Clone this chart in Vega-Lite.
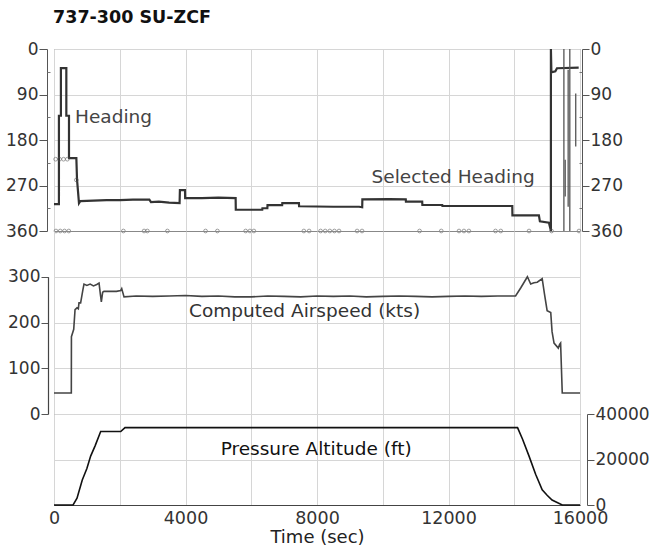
{
  "$schema": "https://vega.github.io/schema/vega-lite/v6.json",
  "background": "white",
  "padding": {"top": 9, "left": 5, "right": 5, "bottom": 5},
  "title": {"text": "737-300 SU-ZCF", "anchor": "start", "font": "DejaVu Sans", "fontSize": 17.5, "fontWeight": "bold", "color": "#111", "offset": 13, "dx": 48},
  "config": {
    "font": "DejaVu Sans",
    "view": {"stroke": "#888", "strokeWidth": 1},
    "axis": {"labelFont": "DejaVu Sans", "titleFont": "DejaVu Sans", "labelFontSize": 17, "labelColor": "#333", "domainColor": "#555", "tickColor": "#555", "gridColor": "#d6d6d6"}
  },
  "datasets": {
    "hdg": [
      {"i": 1, "t": 0, "deg": 307}, {"i": 2, "t": 150, "deg": 307}, {"i": 3, "t": 150, "deg": 132}, {"i": 4, "t": 210, "deg": 132},
      {"i": 5, "t": 210, "deg": 38}, {"i": 6, "t": 375, "deg": 38}, {"i": 7, "t": 375, "deg": 132}, {"i": 8, "t": 456, "deg": 132},
      {"i": 9, "t": 456, "deg": 216}, {"i": 10, "t": 680, "deg": 216}, {"i": 11, "t": 700, "deg": 258}, {"i": 12, "t": 760, "deg": 305},
      {"i": 13, "t": 800, "deg": 301}, {"i": 14, "t": 1200, "deg": 300}, {"i": 15, "t": 1600, "deg": 299}, {"i": 16, "t": 2000, "deg": 299},
      {"i": 17, "t": 2400, "deg": 298}, {"i": 18, "t": 2900, "deg": 298}, {"i": 19, "t": 2950, "deg": 303}, {"i": 20, "t": 3190, "deg": 302},
      {"i": 21, "t": 3500, "deg": 304}, {"i": 22, "t": 3820, "deg": 305}, {"i": 23, "t": 3830, "deg": 279}, {"i": 24, "t": 3985, "deg": 279},
      {"i": 25, "t": 3990, "deg": 295}, {"i": 26, "t": 4500, "deg": 295}, {"i": 27, "t": 5000, "deg": 294}, {"i": 28, "t": 5525, "deg": 295},
      {"i": 29, "t": 5530, "deg": 318}, {"i": 30, "t": 6335, "deg": 318}, {"i": 31, "t": 6340, "deg": 315}, {"i": 32, "t": 6490, "deg": 315},
      {"i": 33, "t": 6495, "deg": 309}, {"i": 34, "t": 6940, "deg": 309}, {"i": 35, "t": 6945, "deg": 305}, {"i": 36, "t": 7450, "deg": 305},
      {"i": 37, "t": 7455, "deg": 311}, {"i": 38, "t": 8500, "deg": 312}, {"i": 39, "t": 9280, "deg": 312}, {"i": 40, "t": 9375, "deg": 313},
      {"i": 41, "t": 9380, "deg": 297.5}, {"i": 42, "t": 10200, "deg": 297}, {"i": 43, "t": 10700, "deg": 297.5}, {"i": 44, "t": 10705, "deg": 302},
      {"i": 45, "t": 11200, "deg": 302}, {"i": 46, "t": 11205, "deg": 308.6}, {"i": 47, "t": 11810, "deg": 308.6}, {"i": 48, "t": 11815, "deg": 310.5},
      {"i": 49, "t": 13940, "deg": 310.5}, {"i": 50, "t": 13945, "deg": 329}, {"i": 51, "t": 14750, "deg": 329}, {"i": 52, "t": 14780, "deg": 341},
      {"i": 53, "t": 15055, "deg": 343.6}, {"i": 54, "t": 15110, "deg": 358}, {"i": 55, "t": 15115, "deg": 360}, {"i": 56, "t": 15115, "deg": 0},
      {"i": 57, "t": 15130, "deg": 46}, {"i": 58, "t": 15250, "deg": 44}, {"i": 59, "t": 15300, "deg": 38}, {"i": 60, "t": 15960, "deg": 37}
    ],
    "wrap": [
      {"t": 15510, "lo": 0, "hi": 360}, {"t": 15550, "lo": 219, "hi": 292}, {"t": 15640, "lo": 41, "hi": 312},
      {"t": 15690, "lo": 0, "hi": 360}, {"t": 15870, "lo": 88, "hi": 193}
    ],
    "sel": [
      {"t": 60, "deg": 360}, {"t": 190, "deg": 360}, {"t": 320, "deg": 360}, {"t": 450, "deg": 360},
      {"t": 2110, "deg": 360}, {"t": 2740, "deg": 360}, {"t": 2840, "deg": 360}, {"t": 3450, "deg": 360},
      {"t": 4610, "deg": 360}, {"t": 4970, "deg": 360}, {"t": 5830, "deg": 360}, {"t": 5960, "deg": 360},
      {"t": 6080, "deg": 360}, {"t": 7600, "deg": 360}, {"t": 7760, "deg": 360}, {"t": 8110, "deg": 360},
      {"t": 8250, "deg": 360}, {"t": 8390, "deg": 360}, {"t": 8530, "deg": 360}, {"t": 8670, "deg": 360},
      {"t": 9220, "deg": 360}, {"t": 9370, "deg": 360}, {"t": 11120, "deg": 360}, {"t": 11780, "deg": 360},
      {"t": 12320, "deg": 360}, {"t": 12470, "deg": 360}, {"t": 12620, "deg": 360}, {"t": 13430, "deg": 360},
      {"t": 13590, "deg": 360}, {"t": 14450, "deg": 360}, {"t": 15135, "deg": 360}, {"t": 15970, "deg": 360},
      {"t": 50, "deg": 218}, {"t": 170, "deg": 218}, {"t": 290, "deg": 218}, {"t": 405, "deg": 218}, {"t": 680, "deg": 259}
    ],
    "ias": [
      {"t": 0, "kts": 46}, {"t": 527, "kts": 46}, {"t": 530, "kts": 169}, {"t": 600, "kts": 185}, {"t": 640, "kts": 228},
      {"t": 700, "kts": 232}, {"t": 740, "kts": 230}, {"t": 760, "kts": 243}, {"t": 810, "kts": 243}, {"t": 880, "kts": 272},
      {"t": 912, "kts": 284}, {"t": 1000, "kts": 281}, {"t": 1100, "kts": 284}, {"t": 1200, "kts": 280}, {"t": 1300, "kts": 283},
      {"t": 1370, "kts": 286}, {"t": 1410, "kts": 262}, {"t": 1440, "kts": 245}, {"t": 1480, "kts": 266}, {"t": 1520, "kts": 268},
      {"t": 1700, "kts": 268}, {"t": 1900, "kts": 268}, {"t": 2030, "kts": 270}, {"t": 2060, "kts": 274}, {"t": 2130, "kts": 256},
      {"t": 2500, "kts": 258}, {"t": 3000, "kts": 257}, {"t": 3500, "kts": 258}, {"t": 4000, "kts": 259}, {"t": 4500, "kts": 257},
      {"t": 5000, "kts": 258}, {"t": 5500, "kts": 256}, {"t": 6000, "kts": 256}, {"t": 6500, "kts": 258}, {"t": 7000, "kts": 257},
      {"t": 7500, "kts": 256}, {"t": 8000, "kts": 258}, {"t": 8500, "kts": 257}, {"t": 9000, "kts": 258}, {"t": 9500, "kts": 256},
      {"t": 10000, "kts": 257}, {"t": 10500, "kts": 258}, {"t": 11000, "kts": 257}, {"t": 11500, "kts": 256}, {"t": 12000, "kts": 257},
      {"t": 12500, "kts": 258}, {"t": 13000, "kts": 257}, {"t": 13500, "kts": 258}, {"t": 14040, "kts": 258}, {"t": 14200, "kts": 276},
      {"t": 14400, "kts": 300}, {"t": 14500, "kts": 284}, {"t": 14600, "kts": 287}, {"t": 14700, "kts": 288}, {"t": 14850, "kts": 296},
      {"t": 14920, "kts": 262}, {"t": 15000, "kts": 226}, {"t": 15110, "kts": 222}, {"t": 15150, "kts": 180}, {"t": 15210, "kts": 155},
      {"t": 15340, "kts": 144}, {"t": 15380, "kts": 152}, {"t": 15410, "kts": 155}, {"t": 15460, "kts": 46}, {"t": 16000, "kts": 46}
    ],
    "alt": [
      {"t": 0, "ft": 0}, {"t": 580, "ft": 0}, {"t": 700, "ft": 3000}, {"t": 860, "ft": 11000}, {"t": 1000, "ft": 16000},
      {"t": 1115, "ft": 21500}, {"t": 1250, "ft": 26000}, {"t": 1420, "ft": 32300}, {"t": 1700, "ft": 32300}, {"t": 2030, "ft": 32300},
      {"t": 2160, "ft": 34000}, {"t": 14100, "ft": 34000}, {"t": 14250, "ft": 29000}, {"t": 14450, "ft": 21500}, {"t": 14650, "ft": 13500},
      {"t": 14850, "ft": 6700}, {"t": 15000, "ft": 4300}, {"t": 15150, "ft": 2200}, {"t": 15460, "ft": 0}, {"t": 16000, "ft": 0}
    ],
    "labels": [
      {"panel": "hdg", "t": 640, "v": 134.5, "text": "Heading"},
      {"panel": "hdg", "t": 9660, "v": 252.6, "text": "Selected Heading"},
      {"panel": "ias", "t": 4106, "v": 226, "text": "Computed Airspeed (kts)"},
      {"panel": "alt", "t": 5070, "v": 24760, "text": "Pressure Altitude (ft)"}
    ]
  },
  "spacing": 0,
  "bounds": "flush",
  "vconcat": [
    {
      "width": 526,
      "height": 182,
      "encoding": {
        "x": {"field": "t", "type": "quantitative", "scale": {"domain": [0, 16000], "nice": false, "zero": false},
              "axis": {"values": [0, 2000, 4000, 6000, 8000, 10000, 12000, 14000, 16000], "grid": true, "labels": false, "ticks": false, "domain": false, "title": null}}
      },
      "layer": [
        {
          "data": {"name": "hdg"},
          "mark": {"type": "line", "color": "#333", "strokeWidth": 2.2},
          "encoding": {
            "y": {"field": "deg", "type": "quantitative", "scale": {"domain": [0, 360], "reverse": true, "nice": false, "zero": false},
                  "axis": {"orient": "left", "values": [0, 90, 180, 270, 360], "offset": 7, "tickSize": 8, "labelPadding": 1, "grid": true, "title": null}},
            "order": {"field": "i", "type": "quantitative"}
          }
        },
        {
          "data": {"name": "wrap"},
          "mark": {"type": "rule", "color": "#555", "strokeWidth": 1.3},
          "encoding": {
            "y": {"field": "lo", "type": "quantitative", "scale": {"domain": [0, 360], "reverse": true, "nice": false, "zero": false},
                  "axis": {"orient": "left", "values": [45, 135, 225, 315], "offset": 7, "tickSize": -3, "labels": false, "domain": false, "grid": false, "title": null, "tickColor": "#777"}},
            "y2": {"field": "hi"}
          }
        },
        {
          "data": {"name": "sel"},
          "mark": {"type": "point", "shape": "circle", "filled": false, "size": 14, "color": "#555", "strokeWidth": 0.8},
          "encoding": {
            "y": {"field": "deg", "type": "quantitative", "scale": {"domain": [0, 360], "reverse": true, "nice": false, "zero": false},
                  "axis": {"orient": "right", "values": [0, 90, 180, 270, 360], "offset": 2, "tickSize": 7, "labelPadding": 1, "grid": false, "title": null}}
          }
        },
        {
          "data": {"name": "labels"},
          "transform": [{"filter": "datum.panel == 'hdg'"}],
          "mark": {"type": "text", "align": "left", "baseline": "middle", "fontSize": 18.5, "color": "#444"},
          "encoding": {
            "y": {"field": "v", "type": "quantitative", "scale": {"domain": [0, 360], "reverse": true, "nice": false, "zero": false},
                  "axis": {"orient": "right", "values": [45, 135, 225, 315], "offset": 2, "tickSize": -3, "labels": false, "domain": false, "grid": false, "title": null, "tickColor": "#777"}},
            "text": {"field": "text"}
          }
        }
      ],
      "resolve": {"axis": {"y": "independent"}}
    },
    {
      "width": 526,
      "height": 183,
      "encoding": {
        "x": {"field": "t", "type": "quantitative", "scale": {"domain": [0, 16000], "nice": false, "zero": false},
              "axis": {"values": [0, 2000, 4000, 6000, 8000, 10000, 12000, 14000, 16000], "grid": true, "labels": false, "ticks": false, "domain": false, "title": null}}
      },
      "layer": [
        {
          "data": {"name": "ias"},
          "mark": {"type": "line", "color": "#444", "strokeWidth": 1.6},
          "encoding": {
            "y": {"field": "kts", "type": "quantitative", "scale": {"domain": [0, 400], "nice": false},
                  "axis": {"orient": "left", "values": [0, 100, 200, 300], "offset": 6, "tickSize": 7, "labelPadding": 1, "grid": true, "title": null,
                           "domain": false}}
          }
        },
        {
          "data": {"name": "labels"},
          "transform": [{"filter": "datum.panel == 'ias'"}],
          "mark": {"type": "text", "align": "left", "baseline": "middle", "fontSize": 18.5, "color": "#333"},
          "encoding": {
            "y": {"field": "v", "type": "quantitative", "scale": {"domain": [0, 400], "nice": false},
                  "axis": {"orient": "left", "values": [0], "offset": 6, "ticks": false, "labels": false, "grid": false, "title": null,
                           "domain": true, "domainColor": "#444", "domainWidth": 1.2, "domainDash": [137.3, 200], "zindex": 1}},
            "text": {"field": "text"}
          }
        }
      ],
      "resolve": {"axis": {"y": "independent"}}
    },
    {
      "width": 526,
      "height": 91,
      "encoding": {
        "x": {"field": "t", "type": "quantitative", "scale": {"domain": [0, 16000], "nice": false, "zero": false},
              "axis": {"values": [0, 2000, 4000, 6000, 8000, 10000, 12000, 14000, 16000], "grid": true, "format": "d",
                       "labelExpr": "datum.value % 4000 == 0 ? datum.label : ''", "ticks": false, "domain": true, "domainColor": "#444",
                       "labelFontSize": 17.5, "labelPadding": 4, "labelFlush": false,
                       "title": "Time (sec)", "titleFontSize": 18, "titleFontWeight": "normal", "titleColor": "#222", "titlePadding": 2}}
      },
      "layer": [
        {
          "data": {"name": "alt"},
          "mark": {"type": "line", "color": "#111", "strokeWidth": 1.6},
          "encoding": {
            "y": {"field": "ft", "type": "quantitative", "scale": {"domain": [0, 40000], "nice": false},
                  "axis": {"orient": "right", "values": [0, 20000, 40000], "format": "d", "offset": 7, "tickSize": 7, "labelPadding": 1, "grid": true, "title": null}}
          }
        },
        {
          "data": {"name": "labels"},
          "transform": [{"filter": "datum.panel == 'alt'"}],
          "mark": {"type": "text", "align": "left", "baseline": "middle", "fontSize": 18.5, "color": "#111"},
          "encoding": {
            "y": {"field": "v", "type": "quantitative", "scale": {"domain": [0, 40000], "nice": false}, "axis": null},
            "text": {"field": "text"}
          }
        }
      ],
      "resolve": {"axis": {"y": "independent"}}
    }
  ]
}
